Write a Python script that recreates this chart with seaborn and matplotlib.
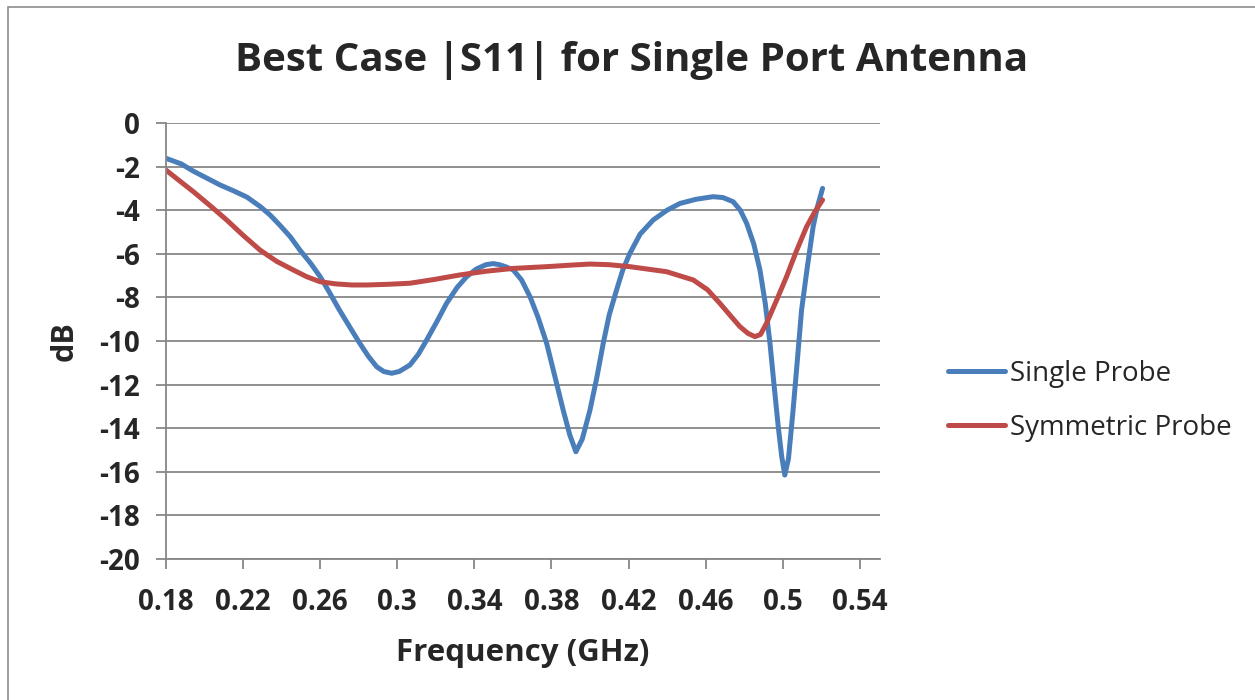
import matplotlib
matplotlib.use("Agg")
import matplotlib.pyplot as plt
import seaborn as sns
import pandas as pd
from matplotlib.patches import Rectangle

# Values (frequency in GHz, |S11| in dB)
single_freq = [0.180, 0.188, 0.194, 0.201, 0.208, 0.215, 0.222, 0.229, 0.234, 0.239,
               0.2445, 0.2495, 0.255, 0.260, 0.265, 0.270, 0.2755, 0.2805, 0.285, 0.2893,
               0.293, 0.2971, 0.301, 0.3066, 0.311, 0.3153, 0.3205, 0.3256, 0.331, 0.336,
               0.341, 0.346, 0.3498, 0.353, 0.3565, 0.3602, 0.3645, 0.3689, 0.373, 0.3775,
               0.382, 0.3861, 0.3895, 0.3927, 0.396, 0.400, 0.4035, 0.4069, 0.410, 0.4138,
               0.417, 0.4207, 0.426, 0.4328, 0.440, 0.4467, 0.455, 0.4639, 0.469, 0.4743,
               0.478, 0.4813, 0.485, 0.4882, 0.491, 0.4934, 0.4955, 0.4977, 0.4995, 0.5011,
               0.503, 0.5054, 0.5076, 0.5098, 0.5128, 0.5158, 0.518, 0.5207]
single_db = [-1.62, -1.88, -2.20, -2.52, -2.84, -3.11, -3.40, -3.84, -4.22, -4.68,
             -5.22, -5.83, -6.43, -7.05, -7.80, -8.58, -9.38, -10.10, -10.70, -11.18,
             -11.40, -11.48, -11.40, -11.10, -10.60, -9.95, -9.12, -8.27, -7.55, -7.05,
             -6.70, -6.50, -6.45, -6.50, -6.60, -6.74, -7.20, -7.97, -8.90, -10.10,
             -11.70, -13.17, -14.30, -15.08, -14.50, -13.17, -11.70, -10.10, -8.80, -7.66,
             -6.75, -5.98, -5.10, -4.45, -4.00, -3.69, -3.50, -3.38, -3.42, -3.61,
             -4.00, -4.60, -5.55, -6.74, -8.30, -10.10, -12.00, -13.93, -15.30, -16.15,
             -15.40, -13.17, -10.90, -8.58, -6.60, -4.76, -3.85, -3.00]

symmetric_freq = [0.180, 0.187, 0.1942, 0.203, 0.2115, 0.220, 0.2288, 0.2375, 0.246, 0.253,
                  0.2599, 0.268, 0.2765, 0.2841, 0.295, 0.3066, 0.319, 0.3325, 0.346, 0.3602,
                  0.3775, 0.390, 0.400, 0.410, 0.4207, 0.4397, 0.4536, 0.461, 0.4674, 0.473,
                  0.4778, 0.482, 0.4856, 0.4885, 0.4916, 0.4965, 0.502, 0.507, 0.5124, 0.5165,
                  0.5207]
symmetric_db = [-2.16, -2.65, -3.15, -3.80, -4.45, -5.15, -5.83, -6.35, -6.74, -7.05,
                -7.28, -7.38, -7.43, -7.43, -7.40, -7.35, -7.18, -6.97, -6.80, -6.67,
                -6.59, -6.52, -6.47, -6.50, -6.59, -6.82, -7.20, -7.65, -8.27, -8.85,
                -9.34, -9.65, -9.80, -9.70, -9.19, -8.20, -7.05, -5.90, -4.76, -4.10,
                -3.53]

x_ticks = [0.18, 0.22, 0.26, 0.30, 0.34, 0.38, 0.42, 0.46, 0.50, 0.54]
x_tick_labels = ["0.18", "0.22", "0.26", "0.3", "0.34", "0.38", "0.42", "0.46", "0.5", "0.54"]
y_ticks = list(range(0, -22, -2))

sns.set_theme(style="white")
plt.rcParams["font.family"] = ["Open Sans", "DejaVu Sans"]

fig = plt.figure(figsize=(12.55, 7.0), dpi=100)
ax = fig.add_axes([166 / 1255, 1 - 559 / 700, (880 - 166) / 1255, (559 - 123) / 700])

df_single = pd.DataFrame({"freq": single_freq, "db": single_db})
df_sym = pd.DataFrame({"freq": symmetric_freq, "db": symmetric_db})

sns.lineplot(data=df_single, x="freq", y="db", ax=ax, color="#4A7EBB", linewidth=3.6,
             sort=False, estimator=None, label="Single Probe",
             solid_joinstyle="round", solid_capstyle="round")
sns.lineplot(data=df_sym, x="freq", y="db", ax=ax, color="#BE4B48", linewidth=3.6,
             sort=False, estimator=None, label="Symmetric Probe",
             solid_joinstyle="round", solid_capstyle="round")

ax.set_xlim(0.18, 0.5505)
ax.set_ylim(-20, 0)
ax.set_xticks(x_ticks)
ax.set_xticklabels(x_tick_labels)
ax.set_yticks(y_ticks)
ax.set_yticklabels([str(v) for v in y_ticks])

grid_color = "#878787"
ax.yaxis.grid(True, color=grid_color, linewidth=1.3)
ax.xaxis.grid(False)
ax.set_axisbelow(True)
for side in ["top", "right"]:
    ax.spines[side].set_visible(False)
for side in ["left", "bottom"]:
    ax.spines[side].set_color(grid_color)
    ax.spines[side].set_linewidth(1.3)

ax.tick_params(axis="both", which="major", direction="out", length=7, width=1.3,
               color=grid_color, labelsize=20)
ax.tick_params(axis="x", bottom=True, pad=14)
ax.tick_params(axis="y", left=True, pad=12)
for lbl in ax.get_xticklabels() + ax.get_yticklabels():
    lbl.set_fontweight("bold")

ax.set_xlabel("Frequency (GHz)", fontsize=22.5, fontweight="bold", labelpad=15)
ax.set_ylabel("dB", fontsize=22, fontweight="bold", labelpad=14)

fig.text(632 / 1255, 1 - 60 / 700, "Best Case |S11| for Single Port Antenna",
         ha="center", va="center", fontsize=29, fontweight="bold")

ax.legend(loc="center left", bbox_to_anchor=(948 / 1255, 1 - 401 / 700),
          bbox_transform=fig.transFigure, frameon=False, fontsize=20,
          handlelength=2.05, handletextpad=0.2, labelspacing=0.95, borderaxespad=0,
          borderpad=0)

fig.patches.append(Rectangle((8 / 1255, -0.01), 1.1, 1 - 7 / 700 + 0.01,
                             transform=fig.transFigure, fill=False,
                             edgecolor="#8C8C8C", linewidth=1.2))

fig.savefig("out.png", dpi=100)
